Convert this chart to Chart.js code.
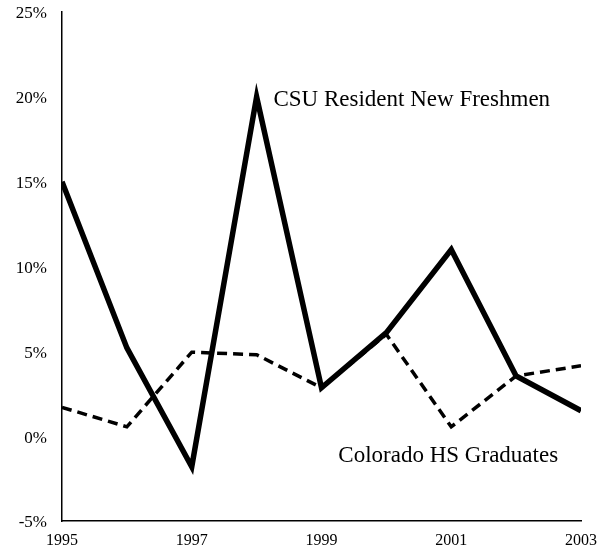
<!DOCTYPE html>
<html>
<head>
<meta charset="utf-8">
<script src="https://cdn.jsdelivr.net/npm/chart.js@4/dist/chart.umd.min.js"></script>
<style>
  html, body { margin: 0; padding: 0; background: #fff; }
  #wrap { width: 597px; height: 550px; }
</style>
</head>
<body>
<div id="wrap"><canvas id="chart"></canvas></div>
<script>
const years = [1995, 1996, 1997, 1998, 1999, 2000, 2001, 2002, 2003];
const csuFreshmen = [15.0, 5.2, -1.8, 20.0, 2.85, 6.1, 11.0, 3.55, 1.5];
const coloradoHS = [1.7, 0.55, 4.95, 4.8, 2.85, 6.0, 0.55, 3.55, 4.15];
const yTicks = [-5, 0, 5, 10, 15, 20, 25];

const FONT = "'Liberation Serif', 'DejaVu Serif', serif";

// text labels next to the lines, placed in data units
const seriesLabels = [
  { text: 'CSU Resident New Freshmen', x: 1998.26, y: 19.8 },
  { text: 'Colorado HS Graduates', x: 1999.26, y: -1.15 }
];

const labelPlugin = {
  id: 'seriesLabels',
  afterDatasetsDraw(chart) {
    const { ctx, scales } = chart;
    ctx.save();
    ctx.font = '23px ' + FONT;
    ctx.fillStyle = '#000';
    ctx.textBaseline = 'middle';
    seriesLabels.forEach((l) => {
      ctx.fillText(l.text, scales.x.getPixelForValue(l.x), scales.y.getPixelForValue(l.y));
    });
    ctx.restore();
  }
};

const pts = (vals) => vals.map((v, i) => ({ x: years[i], y: v }));

new Chart(document.getElementById('chart'), {
  type: 'line',
  data: {
    datasets: [
      {
        label: 'CSU Resident New Freshmen',
        data: pts(csuFreshmen),
        borderColor: '#000',
        borderWidth: 5.5,
        pointRadius: 0,
        tension: 0,
        fill: false
      },
      {
        label: 'Colorado HS Graduates',
        data: pts(coloradoHS),
        borderColor: '#000',
        borderWidth: 3.5,
        borderDash: [10, 6],
        pointRadius: 0,
        tension: 0,
        fill: false
      }
    ]
  },
  options: {
    responsive: true,
    maintainAspectRatio: false,
    animation: false,
    layout: { padding: { top: 12, right: 16, bottom: 0, left: 0 } },
    plugins: {
      legend: { display: false },
      tooltip: { enabled: false }
    },
    scales: {
      x: {
        type: 'linear',
        min: 1995,
        max: 2003,
        afterFit: (axis) => {
          axis.height = 29;
          axis.paddingLeft = 0;
          axis.paddingRight = 0;
        },
        grid: { display: false, drawTicks: false },
        border: { color: '#000', width: 1.5 },
        ticks: {
          stepSize: 2,
          color: '#000',
          font: { family: FONT, size: 16 },
          padding: 10,
          maxRotation: 0,
          callback: (v) => String(v)
        }
      },
      y: {
        min: -5,
        max: 25,
        afterBuildTicks: (axis) => { axis.ticks = yTicks.map((v) => ({ value: v })); },
        afterFit: (axis) => {
          axis.width = 62;
          axis.paddingTop = 0;
          axis.paddingBottom = 0;
        },
        grid: { display: false, drawTicks: false },
        border: { color: '#000', width: 1.5 },
        ticks: {
          color: '#000',
          font: { family: FONT, size: 17 },
          padding: 15,
          labelOffset: 2,
          callback: (v) => v + '%'
        }
      }
    }
  },
  plugins: [labelPlugin]
});
</script>
</body>
</html>
